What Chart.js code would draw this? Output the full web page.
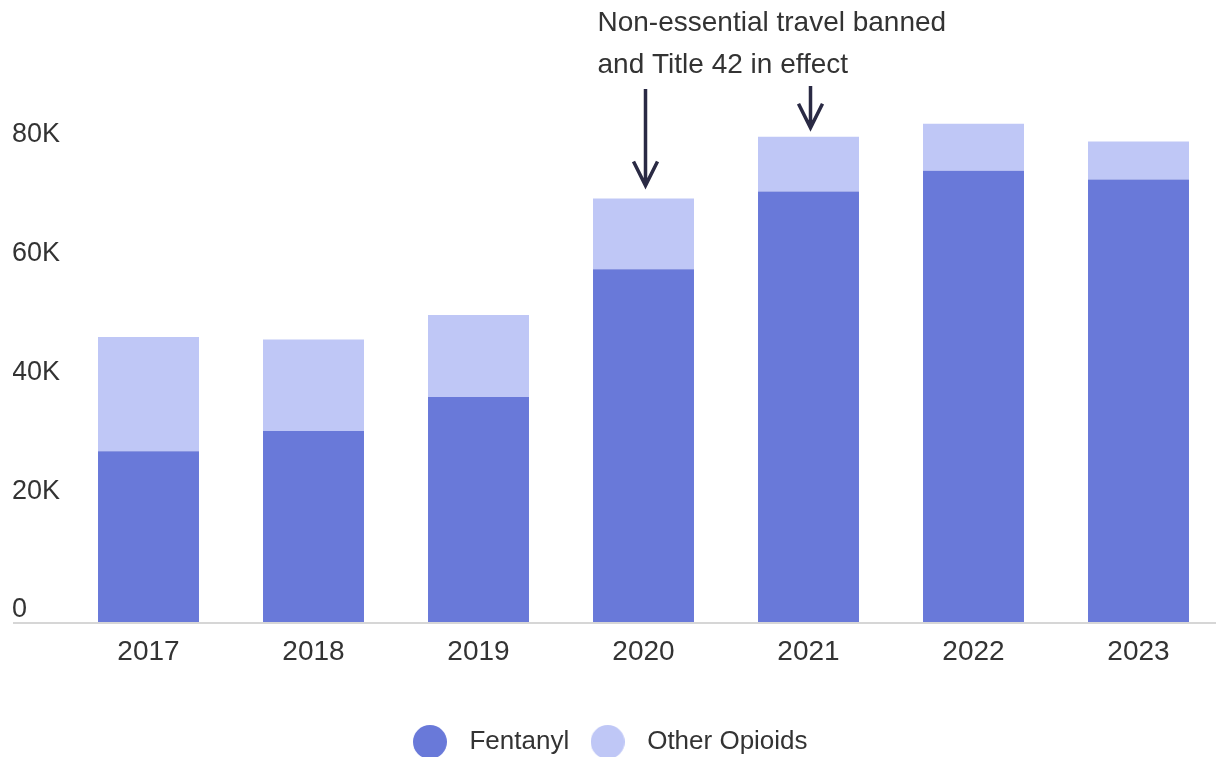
<!DOCTYPE html>
<html>
<head>
<meta charset="utf-8">
<script src="https://cdn.jsdelivr.net/npm/chart.js@4"></script>
<style>
    body { margin: 0; background: #fff; }
    #wrap { position: absolute; left: 13px; top: 0; width: 1203px; height: 757px; overflow: hidden; }
    #myChart { position: absolute; left: -1px; top: 0; }
</style>
</head>
<body>
<div id="wrap"><canvas id="myChart" width="1209" height="765"></canvas></div>
<script>
const years = ['2017', '2018', '2019', '2020', '2021', '2022', '2023'];
const fentanyl = [28900, 32300, 38000, 59500, 72600, 76100, 74600];
const otherOpioids = [19200, 15400, 13800, 11900, 9200, 7900, 6400];
const yTicks = [0, 20000, 40000, 60000, 80000];
const noteLines = ['Non-essential travel banned', 'and Title 42 in effect'];
const noteYears = ['2020', '2021'];

const fentColor = '#6979d9';
const otherColor = '#bfc7f6';
const textColor = '#333333';
const fontFamily = "'Liberation Sans', Arial, sans-serif";

// circles for the legend
const makeDot = (color) => {
    const c = document.createElement('canvas');
    c.width = 34;
    c.height = 34;
    const g = c.getContext('2d');
    g.fillStyle = color;
    g.beginPath();
    g.arc(17, 17, 17, 0, Math.PI * 2);
    g.fill();
    return c;
};
const dots = [makeDot(fentColor), makeDot(otherColor)];

const drawArrow = (ctx, x, y1, y2) => {
    ctx.beginPath();
    ctx.moveTo(x, y1);
    ctx.lineTo(x, y2);
    ctx.moveTo(x - 12, y2 - 24);
    ctx.lineTo(x, y2);
    ctx.lineTo(x + 12, y2 - 24);
    ctx.stroke();
};

const notePlugin = {
    id: 'note',
    afterLayout(chart) {
        // legend sits a bit left of centre in the original
        chart.legend.left -= 11;
        chart.legend.right -= 11;
    },
    afterDatasetsDraw(chart) {
        const ctx = chart.ctx;
        const xs = chart.scales.x;
        const ys = chart.scales.y;
        const first = years.indexOf(noteYears[0]);
        ctx.save();
        ctx.font = '28px ' + fontFamily;
        ctx.fillStyle = textColor;
        ctx.textBaseline = 'middle';
        ctx.textAlign = 'left';
        const tx = xs.getPixelForValue(first) - 46;
        noteLines.forEach((line, i) => ctx.fillText(line, tx, 23 + i * 42));
        ctx.strokeStyle = '#2a2a44';
        ctx.lineWidth = 3.5;
        noteYears.forEach((yr, i) => {
            const idx = years.indexOf(yr);
            const x = xs.getPixelForValue(idx) + 2;
            const top = ys.getPixelForValue(fentanyl[idx] + otherOpioids[idx]);
            drawArrow(ctx, x, i === 0 ? 89 : 86, top - (i === 0 ? 13 : 9));
        });
        ctx.restore();
    }
};

const ctx = document.querySelector('#myChart');
const chart = new Chart(ctx, {
    type: 'bar',
    data: {
        labels: years,
        datasets: [
            { label: 'Fentanyl', data: fentanyl, backgroundColor: fentColor },
            { label: 'Other Opioids', data: otherOpioids, backgroundColor: otherColor },
        ],
    },
    options: {
        responsive: false,
        animation: false,
        devicePixelRatio: 1,
        layout: { padding: { top: 88, left: 0, right: 0, bottom: 0 } },
        datasets: {
            bar: { categoryPercentage: 1, barPercentage: 0.612 }
        },
        scales: {
            x: {
                stacked: true,
                grid: { display: false, drawTicks: false },
                border: { display: false },
                ticks: {
                    color: textColor,
                    padding: 12,
                    font: { size: 28, family: fontFamily },
                },
                afterFit: (scale) => { scale.height = 94; },
            },
            y: {
                stacked: true,
                min: 0,
                max: 90000,
                border: { display: false },
                grid: {
                    color: (c) => (c.tick && c.tick.value === 0 ? '#d6d6d6' : 'rgba(0,0,0,0)'),
                    lineWidth: 2,
                    drawTicks: true,
                    tickLength: 54,
                },
                afterBuildTicks: (scale) => {
                    scale.ticks = yTicks.map((v) => ({ value: v }));
                },
                afterFit: (scale) => { scale.width = 54; },
                ticks: {
                    color: textColor,
                    crossAlign: 'far',
                    labelOffset: -13,
                    font: { size: 27, family: fontFamily },
                    callback: (v) => (v === 0 ? '0' : v / 1000 + 'K'),
                },
            },
        },
        plugins: {
            tooltip: { enabled: false },
            legend: {
                position: 'bottom',
                labels: {
                    color: textColor,
                    font: { size: 26, family: fontFamily },
                    usePointStyle: true,
                    pointStyleWidth: 53,
                    padding: 12,
                    generateLabels: (chart) => {
                        const items = Chart.defaults.plugins.legend.labels.generateLabels(chart);
                        items.forEach((item, i) => { item.pointStyle = dots[i]; });
                        return items;
                    },
                },
            },
        },
    },
    plugins: [notePlugin],
});
</script>
</body>
</html>
